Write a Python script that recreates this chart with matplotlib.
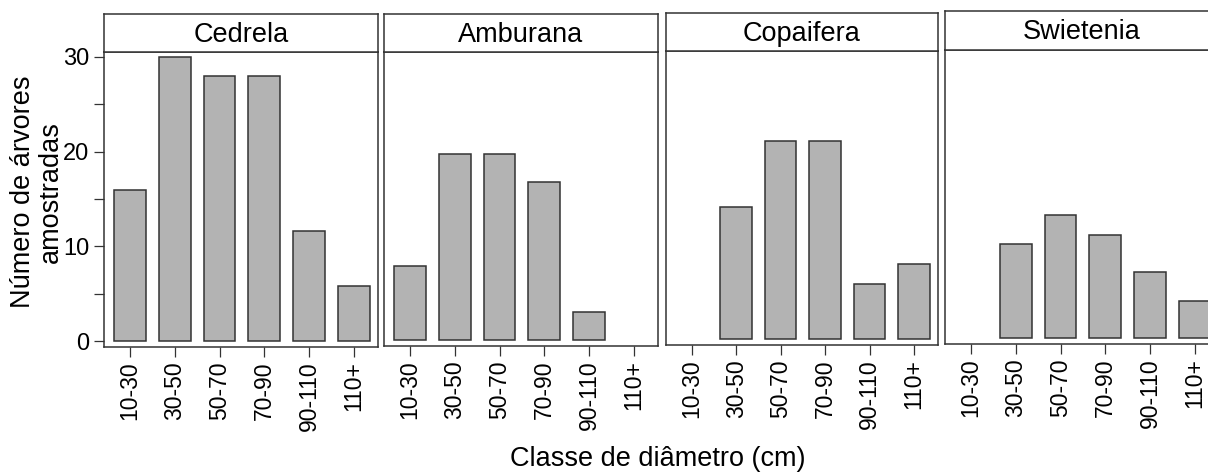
import matplotlib
matplotlib.use('Agg')
import matplotlib.pyplot as plt
import numpy as np

plt.rcParams['font.family'] = ['Liberation Sans', 'DejaVu Sans']

classes = ['10-30', '30-50', '50-70', '70-90', '90-110', '110+']
species = ['Cedrela', 'Amburana', 'Copaifera', 'Swietenia']
cedrela = [16, 30, 28, 28, 11.6, 5.8]
amburana = [7.9, 19.7, 19.7, 16.7, 3, 0]
copaifera = [0, 14, 21, 21, 5.9, 8]
swietenia = [0, 10, 13, 10.9, 7, 4]
counts = [cedrela, amburana, copaifera, swietenia]

W, H = 1208, 472
# panel boxes in pixels: left, right, strip top, strip bottom, panel bottom
boxes = [(104, 378, 14, 52, 347),
         (384, 658, 14, 52, 346),
         (666, 938, 13, 51, 345),
         (945, 1219, 11, 50, 344)]

edge = '#333333'
fig = plt.figure(figsize=(W / 100, H / 100), dpi=100)

for i, (name, vals) in enumerate(zip(species, counts)):
    l, r, t, s, b = boxes[i]
    ax = fig.add_axes([l / W, 1 - b / H, (r - l) / W, (b - s) / H])
    x = np.arange(len(classes))
    v = np.array(vals, dtype=float)
    keep = v > 0
    ax.bar(x[keep], v[keep], width=0.71, color='#b3b3b3', edgecolor=edge, linewidth=1.1)
    ax.set_xlim(-0.58, 5.54)
    ax.set_ylim(-0.6, 30.5)
    for sp in ax.spines.values():
        sp.set_color(edge)
        sp.set_linewidth(1.1)
    ax.set_xticks(x)
    ax.set_xticklabels(classes, rotation=90, fontsize=16.5)
    ax.tick_params(axis='x', length=7.2, width=0.9, color=edge, pad=3.2)
    if i == 0:
        ax.set_yticks(np.arange(0, 31, 5))
        ax.set_yticklabels(['0', '', '10', '', '20', '', '30'], fontsize=17)
        ax.tick_params(axis='y', length=7.2, width=0.9, color=edge, pad=3.2)
    else:
        ax.set_yticks([])

    # strip with the species name
    st = fig.add_axes([l / W, 1 - s / H, (r - l) / W, (s - t) / H])
    st.set_xticks([])
    st.set_yticks([])
    for sp in st.spines.values():
        sp.set_color(edge)
        sp.set_linewidth(1.1)
    st.text(0.5, 0.45, name, ha='center', va='center', fontsize=19.5, transform=st.transAxes)

fig.text(37 / W, 1 - 192 / H, 'Número de árvores\namostradas', rotation=90,
         ha='center', va='center', fontsize=19.5, linespacing=1.05)
fig.text(658 / W, 1 - 459 / H, 'Classe de diâmetro (cm)', ha='center', va='center', fontsize=19.5)

fig.savefig('out.png', dpi=100)
